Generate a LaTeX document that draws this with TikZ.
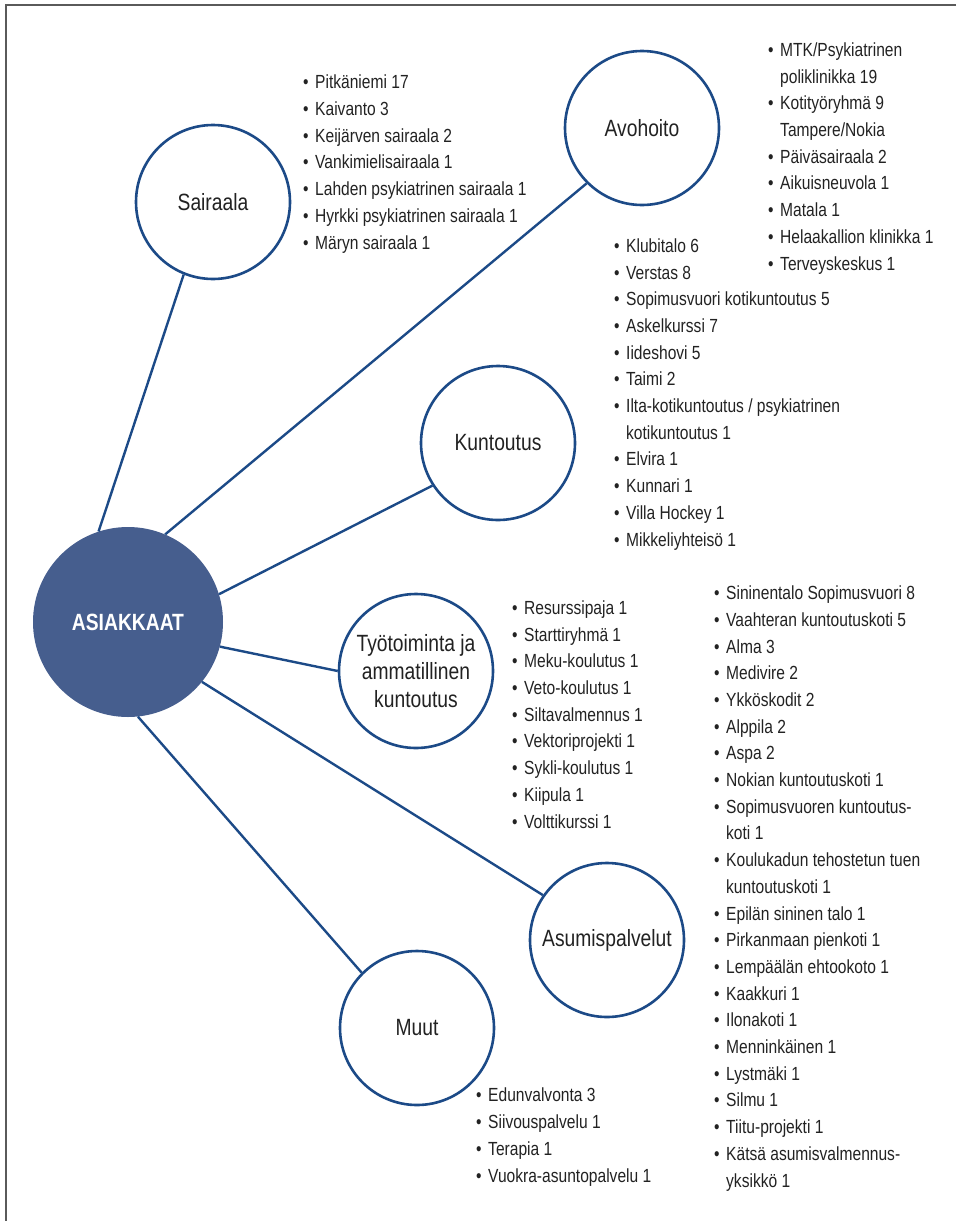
\documentclass[tikz,border=0pt]{standalone}
\usepackage{fontspec}
\setmainfont[FakeStretch=0.82]{Liberation Sans}
\definecolor{hubblue}{RGB}{70,94,142}
\definecolor{lineblue}{RGB}{28,74,135}
\definecolor{textgray}{RGB}{34,34,34}
\definecolor{framegray}{RGB}{90,90,90}
\newcommand{\bitem}{\makebox[12pt][l]{•}}
\newcommand{\bcont}{\hspace*{12pt}}

\begin{document}
\begin{tikzpicture}[
    x = 1pt,
    y = -1pt,
    hubnode/.style = {circle, fill=hubblue, minimum size=190pt, inner sep=0pt,
              text=white, font=\fontsize{23.5}{28}\selectfont\bfseries},
    areanode/.style = {circle, draw=lineblue, line width=2.6pt, fill=white,
              minimum size=154pt, inner sep=0pt, align=center, text=textgray,
              font=\fontsize{23.5}{28}\selectfont},
    itemlist/.style = {anchor=base west, align=left, inner sep=0pt, text=textgray,
              font=\fontsize{19}{26.7}\selectfont},
    connector/.style = {draw=lineblue, line width=2.4pt},
    ]

\useasboundingbox (0,0) rectangle (956,1221);
\draw [framegray, line width=1.5pt] (956,5) -- (6,5) -- (6,1221);

\node[hubnode] (hub) at (128,622) {ASIAKKAAT};
\node[areanode] (sairaala) at (213,202) {Sairaala};
\node[areanode] (avohoito) at (642,128) {Avohoito};
\node[areanode] (kuntoutus) at (498,443) {Kuntoutus};
\node[areanode] (tyotoiminta) at (416,671) {Työtoiminta ja\\ammatillinen\\kuntoutus};
\node[areanode] (asumis) at (607,940) {Asumispalvelut};
\node[areanode] (muut) at (417,1028) {Muut};

\draw [connector] (hub.108) -- (sairaala.248);
\draw [connector] (hub.67) -- (avohoito.225);
\draw [connector] (hub.17) -- (kuntoutus.213);
\draw [connector] (hub.-15) -- (tyotoiminta.180);
\draw [connector] (hub.-39) -- (asumis.145);
\draw [connector] (hub.-84) -- (muut.135);

% lists sit on the baseline of their last line
\node[itemlist] (list_sairaala) at (303,249) {\bitem Pitkäniemi 17\\\bitem Kaivanto 3\\
  \bitem Keijärven sairaala 2\\\bitem Vankimielisairaala 1\\
  \bitem Lahden psykiatrinen sairaala 1\\\bitem Hyrkki psykiatrinen sairaala 1\\
  \bitem Märyn sairaala 1};
\node[itemlist] (list_avohoito) at (768,270) {\bitem MTK/Psykiatrinen\\\bcont poliklinikka 19\\
  \bitem Kotityöryhmä 9\\\bcont Tampere/Nokia\\\bitem Päiväsairaala 2\\
  \bitem Aikuisneuvola 1\\\bitem Matala 1\\\bitem Helaakallion klinikka 1\\
  \bitem Terveyskeskus 1};
\node[itemlist] (list_kuntoutus) at (614,546) {\bitem Klubitalo 6\\\bitem Verstas 8\\
  \bitem Sopimusvuori kotikuntoutus 5\\\bitem Askelkurssi 7\\\bitem Iideshovi 5\\
  \bitem Taimi 2\\\bitem Ilta-kotikuntoutus / psykiatrinen\\\bcont kotikuntoutus 1\\
  \bitem Elvira 1\\\bitem Kunnari 1\\\bitem Villa Hockey 1\\\bitem Mikkeliyhteisö 1};
\node[itemlist] (list_tyotoiminta) at (512,828) {\bitem Resurssipaja 1\\\bitem Starttiryhmä 1\\
  \bitem Meku-koulutus 1\\\bitem Veto-koulutus 1\\\bitem Siltavalmennus 1\\
  \bitem Vektoriprojekti 1\\\bitem Sykli-koulutus 1\\\bitem Kiipula 1\\
  \bitem Volttikurssi 1};
\node[itemlist] (list_asumis) at (714,1187) {\bitem Sininentalo Sopimusvuori 8\\
  \bitem Vaahteran kuntoutuskoti 5\\\bitem Alma 3\\\bitem Medivire 2\\
  \bitem Ykköskodit 2\\\bitem Alppila 2\\\bitem Aspa 2\\\bitem Nokian kuntoutuskoti 1\\
  \bitem Sopimusvuoren kuntoutus-\\\bcont koti 1\\
  \bitem Koulukadun tehostetun tuen\\\bcont kuntoutuskoti 1\\
  \bitem Epilän sininen talo 1\\\bitem Pirkanmaan pienkoti 1\\
  \bitem Lempäälän ehtookoto 1\\\bitem Kaakkuri 1\\\bitem Ilonakoti 1\\
  \bitem Menninkäinen 1\\\bitem Lystmäki 1\\\bitem Silmu 1\\\bitem Tiitu-projekti 1\\
  \bitem Kätsä asumisvalmennus-\\\bcont yksikkö 1};
\node[itemlist] (list_muut) at (476,1182) {\bitem Edunvalvonta 3\\\bitem Siivouspalvelu 1\\
  \bitem Terapia 1\\\bitem Vuokra-asuntopalvelu 1};

\end{tikzpicture}
\end{document}
